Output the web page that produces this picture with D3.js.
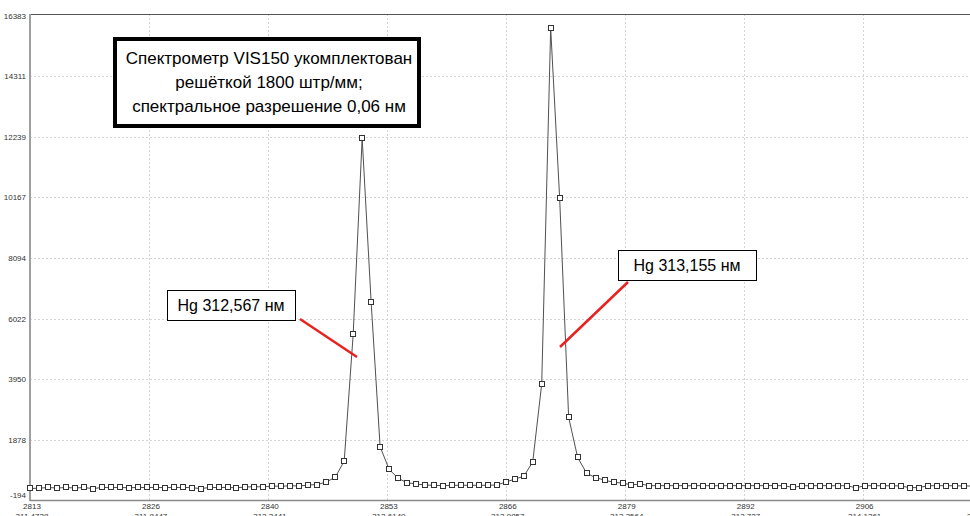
<!DOCTYPE html>
<html>
<head>
<meta charset="utf-8">
<script src="https://cdn.jsdelivr.net/npm/d3@7"></script>
<style>
  body {margin:0; background:#fff;}
  svg {display:block;}
  .tick-label {font-family:"Liberation Sans Narrow","Liberation Sans",Arial,sans-serif; font-size:8px; fill:#333;}
  .box-text {font-family:"Liberation Sans",Arial,sans-serif; fill:#000;}
</style>
</head>
<body>
<svg width="970" height="516"></svg>
<script>
// pixel index (first point = 2813) and intensity
var startIndex = 2813;
var intensity = [
  200, 210, 235, 215, 235, 215, 235, 195, 235, 235,
  235, 225, 235, 235, 235, 230, 235, 235, 230, 195,
  235, 235, 235, 225, 250, 262, 255, 286, 275, 296,
  285, 320, 335, 423, 583, 1142, 5481, 12200, 6588, 1632,
  857, 549, 399, 354, 320, 310, 295, 310, 310, 310,
  310, 310, 320, 423, 520, 618, 1107, 3779, 15962, 10139,
  2638, 1268, 720, 575, 485, 415, 385, 325, 354, 295,
  300, 295, 300, 295, 295, 300, 295, 295, 300, 295,
  300, 295, 300, 300, 295, 235, 295, 295, 300, 295,
  295, 295, 225, 295, 295, 295, 295, 285, 230, 230,
  295, 295, 295, 295, 285, 285
];

var yTickLabels = ["-194", "1878", "3950", "6022", "8094", "10167", "12239", "14311", "16383"];
var xTickLabels = ["2813", "2826", "2840", "2853", "2866", "2879", "2892", "2906", "2919"];
var wlTickLabels = ["311.4738", "311.8447", "312.2441", "312.6149", "312.9857", "313.3564", "313.727", "314.1261", "314.4968"];
var xTickStep = 13.25;

var titleLines = ["Спектрометр VIS150 укомплектован", "решёткой 1800 штр/мм;", "спектральное разрешение 0,06 нм"];
var peakLabels = ["Hg 312,567 нм", "Hg 313,155 нм"];

var svg = d3.select("svg"),
    pLeft = 30, pTop = 14, pBottom = 500, pRight = 970;

var x = d3.scaleLinear()
    .domain([startIndex, startIndex + xTickStep * 8])
    .range([pLeft, pLeft + 8 * 118.95]);

var y = d3.scaleLinear()
    .domain([+yTickLabels[0], +yTickLabels[yTickLabels.length - 1]])
    .range([pBottom, 16]);

var xTicks = xTickLabels.map(function(d, i) { return startIndex + i * xTickStep; });

// grid
var grid = svg.append("g").attr("stroke", "#d4d4d4").attr("stroke-dasharray", "2,2").attr("stroke-width", 1);
grid.selectAll(".gx").data(xTicks.slice(1)).enter().append("line")
    .attr("x1", function(d) { return Math.round(x(d)) + 0.5; })
    .attr("x2", function(d) { return Math.round(x(d)) + 0.5; })
    .attr("y1", pTop).attr("y2", pBottom);
grid.selectAll(".gy").data(yTickLabels.slice(1, -1)).enter().append("line")
    .attr("x1", pLeft).attr("x2", pRight)
    .attr("y1", function(d) { return Math.round(y(+d)) + 0.5; })
    .attr("y2", function(d) { return Math.round(y(+d)) + 0.5; });

// frame
svg.append("line").attr("x1", pLeft).attr("x2", pRight).attr("y1", pTop + 0.5).attr("y2", pTop + 0.5)
    .attr("stroke", "#555").attr("stroke-width", 1);
svg.append("line").attr("x1", pLeft).attr("x2", pLeft).attr("y1", pTop).attr("y2", pBottom + 1)
    .attr("stroke", "#a0a0a0").attr("stroke-width", 2);
svg.append("line").attr("x1", pLeft).attr("x2", pRight).attr("y1", pBottom + 0.5).attr("y2", pBottom + 0.5)
    .attr("stroke", "#8a8a8a").attr("stroke-width", 1.5);

// y labels
svg.append("g").selectAll("text").data(yTickLabels).enter().append("text")
    .attr("class", "tick-label")
    .attr("x", pLeft - 4)
    .attr("y", function(d, i) { return i === 0 ? y(+d) - 2 : y(+d) + 3; })
    .attr("text-anchor", "end")
    .text(function(d) { return d; });

// x labels (second row is cut by the bottom edge, as in the original)
var xl = svg.append("g");
xl.selectAll(".l1").data(xTickLabels).enter().append("text")
    .attr("class", "tick-label")
    .attr("x", function(d, i) { return x(xTicks[i]) + 2; })
    .attr("y", 509)
    .attr("text-anchor", "middle")
    .text(function(d) { return d; });
xl.selectAll(".l2").data(wlTickLabels).enter().append("text")
    .attr("class", "tick-label")
    .attr("x", function(d, i) { return x(xTicks[i]) + 2; })
    .attr("y", 518.5)
    .attr("text-anchor", "middle")
    .text(function(d) { return d; });

// spectrum
svg.append("clipPath").attr("id", "plotclip").append("rect")
    .attr("x", pLeft - 4).attr("y", pTop).attr("width", pRight - pLeft + 4).attr("height", pBottom - pTop);

var pts = intensity.map(function(v, i) { return [startIndex + i, v]; });
var plot = svg.append("g").attr("clip-path", "url(#plotclip)");

plot.append("path")
    .datum(pts)
    .attr("fill", "none")
    .attr("stroke", "#505050")
    .attr("stroke-width", 1)
    .attr("d", d3.line().x(function(d) { return x(d[0]); }).y(function(d) { return y(d[1]); }));

plot.selectAll("rect").data(pts).enter().append("rect")
    .attr("x", function(d) { return Math.round(x(d[0])) - 2.5; })
    .attr("y", function(d) { return Math.round(y(d[1])) - 2.5; })
    .attr("width", 5).attr("height", 5)
    .attr("fill", "#fff").attr("stroke", "#333").attr("stroke-width", 1);

// title box
svg.append("rect").attr("x", 115).attr("y", 39).attr("width", 304).attr("height", 87)
    .attr("fill", "#fff").attr("stroke", "#000").attr("stroke-width", 4);
svg.append("g").selectAll("text").data(titleLines).enter().append("text")
    .attr("class", "box-text")
    .attr("x", 269)
    .attr("y", function(d, i) { return 64 + i * 24; })
    .attr("text-anchor", "middle")
    .attr("font-size", "17px")
    .text(function(d) { return d; });

// peak labels with red pointers
var callouts = [
  {box: [167, 290, 128, 30], line: [300, 319, 357, 357]},
  {box: [618, 250, 138, 30], line: [628, 282, 560, 347]}
];
callouts.forEach(function(c, i) {
  svg.append("line")
      .attr("x1", c.line[0]).attr("y1", c.line[1]).attr("x2", c.line[2]).attr("y2", c.line[3])
      .attr("stroke", "#e8231f").attr("stroke-width", 2.5);
  svg.append("rect")
      .attr("x", c.box[0] + 0.5).attr("y", c.box[1] + 0.5).attr("width", c.box[2]).attr("height", c.box[3])
      .attr("fill", "#fff").attr("stroke", "#000").attr("stroke-width", 1);
  svg.append("text").attr("class", "box-text")
      .attr("x", c.box[0] + c.box[2] / 2).attr("y", c.box[1] + 21)
      .attr("text-anchor", "middle").attr("font-size", "16px")
      .text(peakLabels[i]);
});
</script>
</body>
</html>
